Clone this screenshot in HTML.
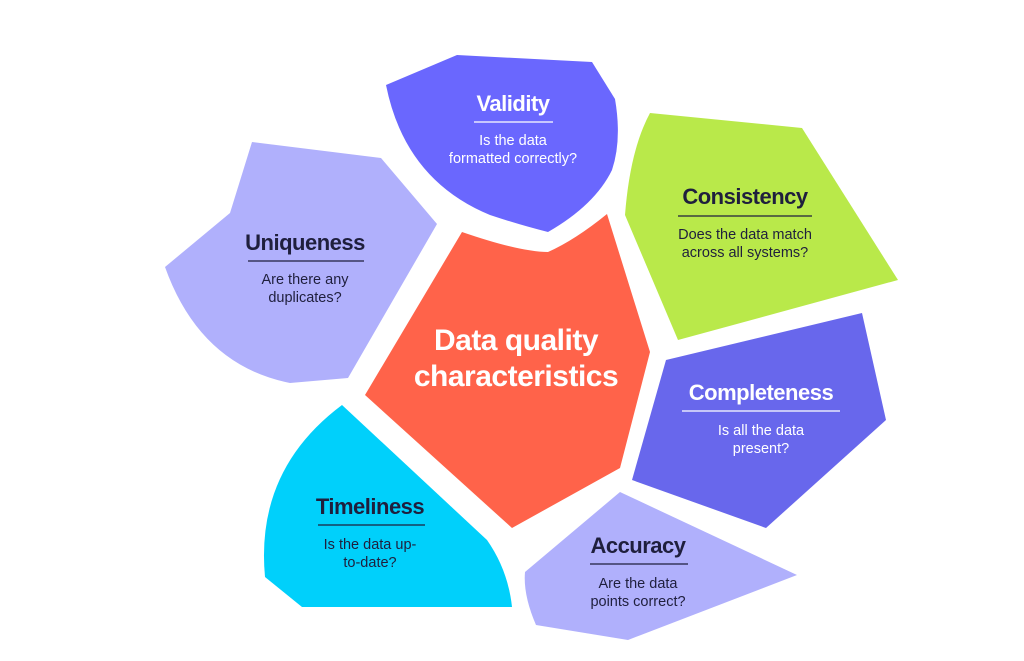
<!DOCTYPE html>
<html><head><meta charset="utf-8"><style>
html,body{margin:0;padding:0;background:#fff;}
svg{display:block;}
.t{font-family:"Liberation Sans",sans-serif;font-weight:bold;font-size:22px;text-anchor:middle;letter-spacing:-0.5px;}
.s{font-family:"Liberation Sans",sans-serif;font-size:14.5px;text-anchor:middle;}
.d{fill:#1f1f3d;}
.w{fill:#fff;}
</style></head><body>
<svg width="1024" height="661" viewBox="0 0 1024 661" xmlns="http://www.w3.org/2000/svg">
<!-- Validity -->
<path d="M386,85 L457,55 L592,62 L615,99 Q622,140 612,170 Q595,205 548,232 Q520,225 490,215 Q405,180 386,85 Z" fill="#6a67fe"/>
<!-- Uniqueness -->
<path d="M252,142 L381,158 L437,224 L348,378 L290,383 Q200,365 165,267 L230,213 Z" fill="#b0b0fc"/>
<!-- Consistency -->
<path d="M650,113 L802,128 L898,280 L678,340 L625,215 Q630,150 650,113 Z" fill="#b9e94a"/>
<!-- Center -->
<path d="M462,232 Q520,252 548,252 Q575,240 607,214 L650,352 L620,468 L512,528 L365,395 Z" fill="#ff634a"/>
<!-- Completeness -->
<path d="M666,360 L862,313 L886,420 L766,528 L632,480 Z" fill="#6867ec"/>
<!-- Timeliness -->
<path d="M342,405 L487,540 Q508,570 512,607 L302,607 L265,577 Q255,470 342,405 Z" fill="#00d0fb"/>
<!-- Accuracy -->
<path d="M620,492 L797,575 L628,640 L536,625 Q523,595 525,572 Z" fill="#b0b0fc"/>

<!-- Texts -->
<text class="t w" x="513" y="111">Validity</text>
<line x1="474" y1="122" x2="553" y2="122" stroke="#fff" stroke-width="1.2"/>
<text class="s w" x="513" y="145">Is the data</text>
<text class="s w" x="513" y="163">formatted correctly?</text>

<text class="t d" x="305" y="250">Uniqueness</text>
<line x1="248" y1="261" x2="364" y2="261" stroke="#1f1f3d" stroke-width="1.2"/>
<text class="s d" x="305" y="284">Are there any</text>
<text class="s d" x="305" y="302">duplicates?</text>

<text class="t d" x="745" y="204">Consistency</text>
<line x1="678" y1="216" x2="812" y2="216" stroke="#1f1f3d" stroke-width="1.2"/>
<text class="s d" x="745" y="239">Does the data match</text>
<text class="s d" x="745" y="257">across all systems?</text>

<text class="t w" x="516" y="350" style="font-size:30px">Data quality</text>
<text class="t w" x="516" y="386" style="font-size:30px">characteristics</text>

<text class="t w" x="761" y="400">Completeness</text>
<line x1="682" y1="411" x2="840" y2="411" stroke="#fff" stroke-width="1.2"/>
<text class="s w" x="761" y="435">Is all the data</text>
<text class="s w" x="761" y="453">present?</text>

<text class="t d" x="370" y="514">Timeliness</text>
<line x1="318" y1="525" x2="425" y2="525" stroke="#1f1f3d" stroke-width="1.2"/>
<text class="s d" x="370" y="549">Is the data up-</text>
<text class="s d" x="370" y="567">to-date?</text>

<text class="t d" x="638" y="553">Accuracy</text>
<line x1="590" y1="564" x2="688" y2="564" stroke="#1f1f3d" stroke-width="1.2"/>
<text class="s d" x="638" y="588">Are the data</text>
<text class="s d" x="638" y="606">points correct?</text>
</svg>
</body></html>
